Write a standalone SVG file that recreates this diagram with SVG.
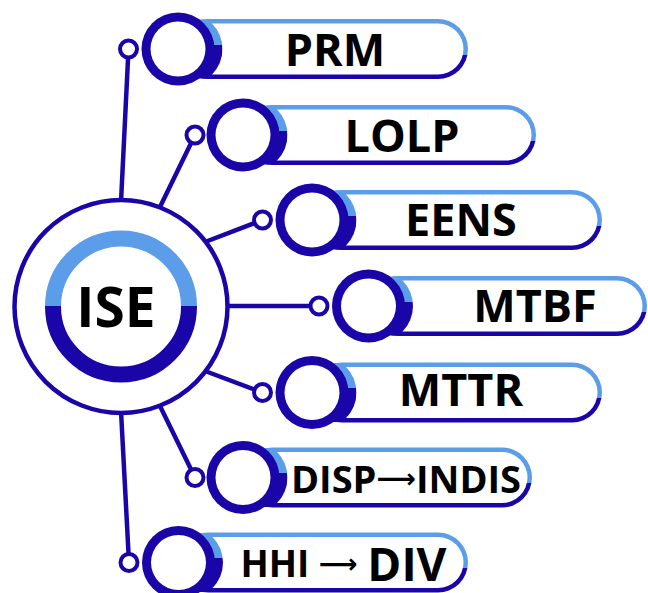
<svg xmlns="http://www.w3.org/2000/svg" xmlns:xlink="http://www.w3.org/1999/xlink" width="648" height="593" viewBox="0 0 648 593">
<style>
.dk{fill:#1A05A8}
.ln{stroke:#1A05A8;stroke-width:4.5;fill:none;stroke-linecap:round}
.sc{fill:#fff;stroke:#1A05A8;stroke-width:4}
.wh{fill:#fff}
.pl{fill:url(#gp)}
.t{font-family:"Open Sans","Noto Sans","DejaVu Sans",sans-serif;font-weight:700;fill:#000;text-anchor:middle}
.ar{font-family:"DejaVu Sans",sans-serif;font-weight:700}
</style>
<defs>
<linearGradient id="gp" x1="0.6" y1="0" x2="0.4" y2="1"><stop offset="0.5" stop-color="#5C9DE9"/><stop offset="0.5" stop-color="#1A05A8"/></linearGradient>
<linearGradient id="gc" x1="0" y1="0" x2="0" y2="1"><stop offset="0.44" stop-color="#5C9DE9"/><stop offset="0.44" stop-color="#1A05A8"/></linearGradient>
<linearGradient id="gr" x1="0" y1="0" x2="0" y2="1"><stop offset="0.5" stop-color="#5C9DE9"/><stop offset="0.5" stop-color="#1A05A8"/></linearGradient>
<clipPath id="cb" clipPathUnits="objectBoundingBox"><rect x="0" y="0.095" width="1" height="0.81"/></clipPath>
<g id="ring">
<circle cx="8" cy="0" r="36.5" fill="url(#gc)" clip-path="url(#cb)"/>
<circle r="36.5" class="dk"/>
<circle r="27.5" class="wh"/>
</g>
</defs>
<g id="connectors">
<line class="ln" x1="121" y1="202" x2="128.5" y2="49"/>
<line class="ln" x1="159" y1="209" x2="195" y2="135"/>
<line class="ln" x1="205" y1="242" x2="262.5" y2="220"/>
<line class="ln" x1="226" y1="306" x2="319" y2="306"/>
<line class="ln" x1="205" y1="371" x2="262.5" y2="392.5"/>
<line class="ln" x1="159" y1="404" x2="195" y2="477.5"/>
<line class="ln" x1="121" y1="411" x2="129" y2="562.5"/>
</g>
<g id="ise">
<circle cx="121" cy="306.5" r="106.5" fill="#fff" stroke="#1A05A8" stroke-width="4.5"/>
<circle cx="121" cy="306.5" r="68" fill="none" stroke="url(#gr)" stroke-width="16"/>
<text class="t" x="116" y="327" font-size="55">ISE</text>
</g>
<g id="prm" transform="translate(178,49)">
<rect class="pl" x="0" y="-30" width="290" height="60" rx="30"/>
<rect class="wh" x="4.5" y="-25.5" width="281" height="51" rx="25.5"/>
<use xlink:href="#ring"/>
<circle class="sc" cx="-49.5" cy="0" r="8.5"/>
<text class="t" x="157" y="17" font-size="45">PRM</text>
</g>
<g id="lolp" transform="translate(243,135)">
<rect class="pl" x="0" y="-30" width="293" height="60" rx="30"/>
<rect class="wh" x="4.5" y="-25.5" width="284" height="51" rx="25.5"/>
<use xlink:href="#ring"/>
<circle class="sc" cx="-48" cy="0" r="8.5"/>
<text class="t" x="159" y="17" font-size="45">LOLP</text>
</g>
<g id="eens" transform="translate(312,220)">
<rect class="pl" x="0" y="-30" width="290" height="60" rx="30"/>
<rect class="wh" x="4.5" y="-25.5" width="281" height="51" rx="25.5"/>
<use xlink:href="#ring"/>
<circle class="sc" cx="-49.5" cy="0" r="8.5"/>
<text class="t" x="149" y="16" font-size="45">EENS</text>
</g>
<g id="mtbf" transform="translate(368.5,306)">
<rect class="pl" x="0" y="-30" width="278.5" height="60" rx="30"/>
<rect class="wh" x="4.5" y="-25.5" width="269.5" height="51" rx="25.5"/>
<use xlink:href="#ring"/>
<circle class="sc" cx="-49.5" cy="0" r="8.5"/>
<text class="t" x="166.5" y="16" font-size="45">MTBF</text>
</g>
<g id="mttr" transform="translate(312,392.5)">
<rect class="pl" x="0" y="-30" width="290" height="60" rx="30"/>
<rect class="wh" x="4.5" y="-25.5" width="281" height="51" rx="25.5"/>
<use xlink:href="#ring"/>
<circle class="sc" cx="-49.5" cy="0" r="8.5"/>
<text class="t" x="149" y="13.5" font-size="45">MTTR</text>
</g>
<g id="disp" transform="translate(243,477.5)">
<rect class="pl" x="0" y="-30" width="289" height="60" rx="30"/>
<rect class="wh" x="4.5" y="-25.5" width="280" height="51" rx="25.5"/>
<use xlink:href="#ring"/>
<circle class="sc" cx="-48" cy="0" r="8.5"/>
<text class="t" x="163" y="15.5" font-size="38">DISP<tspan class="ar" font-size="27.5" dy="-5">⟶</tspan><tspan dy="5">INDIS</tspan></text>
</g>
<g id="hhi" transform="translate(178.5,562.5)">
<rect class="pl" x="0" y="-30" width="289.5" height="60" rx="30"/>
<rect class="wh" x="4.5" y="-25.5" width="280.5" height="51" rx="25.5"/>
<use xlink:href="#ring"/>
<circle class="sc" cx="-49.5" cy="0" r="8.5"/>
<text class="t" x="62" y="14.5" font-size="37" style="text-anchor:start">HHI <tspan class="ar" font-size="27" dy="-4">⟶</tspan> <tspan font-size="46" dy="8">DIV</tspan></text>
</g>
</svg>
